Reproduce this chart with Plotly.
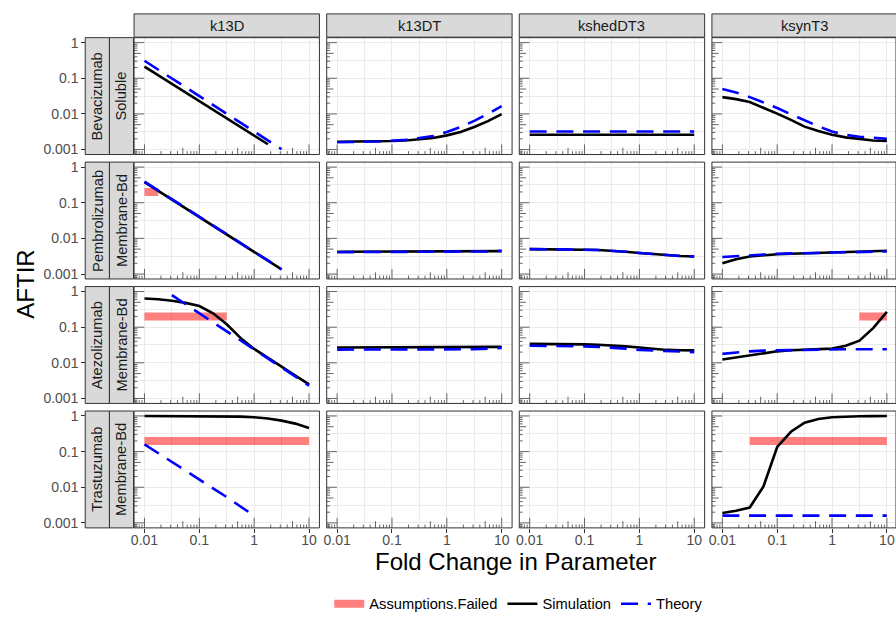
import math
import plotly.graph_objects as go

W, H = 896, 621
FONT = "Liberation Sans, Arial, Helvetica, sans-serif"

# ---------------- data ----------------
param_names = ["k13D", "k13DT", "kshedDT3", "ksynT3"]
drug_names = ["Bevacizumab", "Pembrolizumab", "Atezolizumab", "Trastuzumab"]
target_types = ["Soluble", "Membrane-Bd", "Membrane-Bd", "Membrane-Bd"]

fold = [0.01, 0.0178, 0.0316, 0.0562, 0.1, 0.178, 0.316, 0.562, 1, 1.78, 3.16, 5.62, 10]

x_tickvals = [0.01, 0.1, 1, 10]
x_ticktext = ["0.01", "0.1", "1", "10"]
y_tickvals = [0.001, 0.01, 0.1, 1]
y_ticktext = ["0.001", "0.01", "0.1", "1"]

# Bevacizumab / Soluble
sim_bev_k13D = [0.211, 0.121, 0.0693, 0.0397, 0.0228, 0.0131, 0.00748, 0.0043, 0.00246, 0.00141]
thr_bev_k13D = [0.31, 0.175, 0.0989, 0.0558, 0.0316, 0.0178, 0.0101, 0.0057, 0.00321, 0.00182, 0.00102]
sim_bev_k13DT = [0.00166, 0.00166, 0.00168, 0.0017, 0.00174, 0.0018, 0.0019, 0.0021, 0.0025, 0.0031, 0.0043, 0.0063, 0.0099]
thr_bev_k13DT = [0.0016, 0.0016, 0.00165, 0.00168, 0.00175, 0.00187, 0.0021, 0.0024, 0.0031, 0.0043, 0.0064, 0.0100, 0.0166]
sim_bev_kshedDT3 = [0.0026, 0.0026, 0.0026, 0.0026, 0.0026, 0.0026, 0.0026, 0.0026, 0.0026, 0.0026, 0.0026, 0.0026, 0.0026]
thr_bev_kshedDT3 = [0.0032, 0.0032, 0.0032, 0.0032, 0.0032, 0.0032, 0.0032, 0.0032, 0.0032, 0.0032, 0.0032, 0.0032, 0.0032]
sim_bev_ksynT3 = [0.0296, 0.026, 0.0215, 0.015, 0.0102, 0.0068, 0.0044, 0.0033, 0.0026, 0.0022, 0.0020, 0.0018, 0.00174]
thr_bev_ksynT3 = [0.050, 0.040, 0.0296, 0.021, 0.0147, 0.0098, 0.0066, 0.0045, 0.0032, 0.0026, 0.0023, 0.0021, 0.0020]

# Pembrolizumab / Membrane-Bd
sim_pem_k13D = [0.38, 0.216, 0.123, 0.070, 0.040, 0.0226, 0.0129, 0.0073, 0.0042, 0.0024, 0.00135]
thr_pem_k13D = [0.39, 0.22, 0.124, 0.070, 0.040, 0.0226, 0.0128, 0.0073, 0.0042, 0.0024, 0.00135]
sim_pem_k13DT = [0.0042, 0.0042, 0.0042, 0.0042, 0.0042, 0.0042, 0.0042, 0.0042, 0.0042, 0.0042, 0.0042, 0.0043, 0.0044]
thr_pem_k13DT = [0.0041, 0.0041, 0.0041, 0.0041, 0.0041, 0.0041, 0.0041, 0.0041, 0.0041, 0.0042, 0.0042, 0.0043, 0.0045]
sim_pem_kshedDT3 = [0.0050, 0.0050, 0.0050, 0.0049, 0.0048, 0.0047, 0.0045, 0.0042, 0.0039, 0.0036, 0.0034, 0.0032, 0.0031]
thr_pem_kshedDT3 = [0.0050, 0.0050, 0.0050, 0.0049, 0.0048, 0.0047, 0.0045, 0.0042, 0.0039, 0.0036, 0.0034, 0.0032, 0.0031]
sim_pem_ksynT3 = [0.0020, 0.0026, 0.0031, 0.0034, 0.0036, 0.0037, 0.0038, 0.0039, 0.0040, 0.0040, 0.0041, 0.0043, 0.0045]
thr_pem_ksynT3 = [0.0030, 0.0032, 0.0034, 0.0036, 0.0037, 0.0038, 0.0038, 0.0039, 0.0040, 0.0040, 0.0041, 0.0042, 0.0043]

# Atezolizumab / Membrane-Bd
sim_ate_k13D = [0.64, 0.61, 0.55, 0.48, 0.39, 0.245, 0.12, 0.05, 0.0245, 0.0135, 0.0078, 0.0044, 0.0025]
thr_ate_k13D = [0.79, 0.44, 0.25, 0.138, 0.077, 0.043, 0.024, 0.0135, 0.0075, 0.0042, 0.0023]
sim_ate_k13DT = [0.027, 0.027, 0.027, 0.027, 0.027, 0.027, 0.027, 0.027, 0.027, 0.027, 0.027, 0.0275, 0.028]
thr_ate_k13DT = [0.0235, 0.0235, 0.0235, 0.0235, 0.0235, 0.0235, 0.0235, 0.0235, 0.0235, 0.0235, 0.024, 0.025, 0.026]
sim_ate_kshedDT3 = [0.034, 0.034, 0.034, 0.033, 0.033, 0.032, 0.031, 0.029, 0.027, 0.025, 0.023, 0.0225, 0.0224]
thr_ate_kshedDT3 = [0.030, 0.030, 0.030, 0.029, 0.029, 0.028, 0.027, 0.025, 0.023, 0.022, 0.021, 0.020, 0.020]
sim_ate_ksynT3 = [0.0124, 0.0142, 0.016, 0.0185, 0.021, 0.0225, 0.0235, 0.0242, 0.025, 0.030, 0.042, 0.094, 0.27]
thr_ate_ksynT3 = [0.0178, 0.0195, 0.021, 0.022, 0.0225, 0.023, 0.0235, 0.0238, 0.024, 0.024, 0.024, 0.024, 0.024]

# Trastuzumab / Membrane-Bd
sim_tra_k13D = [1.0, 1.0, 1.0, 1.0, 0.99, 0.99, 0.98, 0.96, 0.92, 0.85, 0.74, 0.61, 0.46]
thr_tra_k13D_x = [0.01, 0.0316, 0.1, 0.316, 0.8]
thr_tra_k13D = [0.16, 0.052, 0.0165, 0.0053, 0.0020]
sim_tra_ksynT3 = [0.0019, 0.0022, 0.0027, 0.0105, 0.135, 0.36, 0.65, 0.82, 0.92, 0.96, 0.98, 0.99, 1.0]
thr_tra_ksynT3 = [0.0016, 0.0016, 0.0016, 0.0016, 0.0016, 0.0016, 0.0016, 0.0016, 0.0016, 0.0016, 0.0016, 0.0016, 0.0016]

# Assumptions.Failed ranges (row, column, fold range) drawn at AFTIR level
fail_row = [1, 2, 3, 2, 3]
fail_col = [0, 0, 0, 3, 3]
fail_lo = [0.01, 0.01, 0.01, 3.16, 0.0316]
fail_hi = [0.0178, 0.316, 10, 10, 10]
fail_level = 0.2

sim_series = [
    (0, 0, fold[:10], sim_bev_k13D), (0, 1, fold, sim_bev_k13DT),
    (0, 2, fold, sim_bev_kshedDT3), (0, 3, fold, sim_bev_ksynT3),
    (1, 0, fold[:11], sim_pem_k13D), (1, 1, fold, sim_pem_k13DT),
    (1, 2, fold, sim_pem_kshedDT3), (1, 3, fold, sim_pem_ksynT3),
    (2, 0, fold, sim_ate_k13D), (2, 1, fold, sim_ate_k13DT),
    (2, 2, fold, sim_ate_kshedDT3), (2, 3, fold, sim_ate_ksynT3),
    (3, 0, fold, sim_tra_k13D), (3, 3, fold, sim_tra_ksynT3),
]
thr_series = [
    (0, 0, fold[:11], thr_bev_k13D), (0, 1, fold, thr_bev_k13DT),
    (0, 2, fold, thr_bev_kshedDT3), (0, 3, fold, thr_bev_ksynT3),
    (1, 0, fold[:11], thr_pem_k13D), (1, 1, fold, thr_pem_k13DT),
    (1, 2, fold, thr_pem_kshedDT3), (1, 3, fold, thr_pem_ksynT3),
    (2, 0, fold[2:], thr_ate_k13D), (2, 1, fold, thr_ate_k13DT),
    (2, 2, fold, thr_ate_kshedDT3), (2, 3, fold, thr_ate_ksynT3),
    (3, 0, thr_tra_k13D_x, thr_tra_k13D), (3, 3, fold, thr_tra_ksynT3),
]

# ---------------- geometry ----------------
PW, PH = 186.0, 118.0
col_x0 = [131.5, 324.8, 518.0, 711.3]
row_y0 = [35.0, 160.67, 286.33, 412.0]
XR = [-2.19, 1.19]
YR = [-3.139, 0.139]
px_dec_x = PW / (XR[1] - XR[0])
px_dec_y = PH / (YR[1] - YR[0])
STRIP_TOP = (11.0, 34.5)
STRIP_LEFT = [(82.5, 106.8), (106.8, 131.0)]

GRID = "#EBEBEB"
DARK = "#333333"

fig = go.Figure()


def ax_id(i):
    return "" if i == 1 else str(i)


def panel_index(r, c):
    return r * 4 + c + 1


# log ticks (annotation_logticks style)
def tick_len(m):
    return 10.2 if m == 1 else (6.8 if m == 5 else 3.4)


for r in range(4):
    for c in range(4):
        i = panel_index(r, c)
        x0 = col_x0[c]
        x1 = min(x0 + PW, W)
        xhi = XR[0] + (x1 - x0) / px_dec_x
        xs, ys = [], []
        for k in range(-3, 2):
            for m in range(1, 10):
                v = m * 10 ** k
                lv = math.log10(v)
                if XR[0] <= lv <= xhi:
                    xs += [v, v, None]
                    ys += [10 ** YR[0], 10 ** (YR[0] + tick_len(m) / px_dec_y), None]
        for k in range(-4, 1):
            for m in range(1, 10):
                v = m * 10 ** k
                lv = math.log10(v)
                if YR[0] <= lv <= YR[1]:
                    ys += [v, v, None]
                    xs += [10 ** XR[0], 10 ** (XR[0] + tick_len(m) / px_dec_x), None]
        fig.add_trace(go.Scatter(x=xs, y=ys, mode="lines", line=dict(color="#555555", width=0.9),
                                 hoverinfo="skip", showlegend=False,
                                 xaxis="x" + ax_id(i), yaxis="y" + ax_id(i)))

# failed assumptions
for n, (r, c, lo, hi) in enumerate(zip(fail_row, fail_col, fail_lo, fail_hi)):
    i = panel_index(r, c)
    fig.add_trace(go.Scatter(x=[lo, hi], y=[fail_level, fail_level], mode="lines",
                             line=dict(color="rgba(255,0,0,0.5)", width=8),
                             name="Assumptions.Failed", legendgroup="fail", showlegend=(n == 0),
                             xaxis="x" + ax_id(i), yaxis="y" + ax_id(i)))

for n, (r, c, xv, yv) in enumerate(sim_series):
    i = panel_index(r, c)
    fig.add_trace(go.Scatter(x=xv, y=yv, mode="lines", line=dict(color="black", width=2.6),
                             name="Simulation", legendgroup="sim", showlegend=(n == 0),
                             xaxis="x" + ax_id(i), yaxis="y" + ax_id(i)))

for n, (r, c, xv, yv) in enumerate(thr_series):
    i = panel_index(r, c)
    fig.add_trace(go.Scatter(x=xv, y=yv, mode="lines",
                             line=dict(color="#0000FF", width=2.6, dash="17px,9.7px"),
                             name="Theory", legendgroup="thr", showlegend=(n == 0),
                             xaxis="x" + ax_id(i), yaxis="y" + ax_id(i)))

layout = dict(
    width=W, height=H, margin=dict(l=0, r=0, t=0, b=0),
    paper_bgcolor="white", plot_bgcolor="white",
    font=dict(family=FONT, size=14, color="#4D4D4D"),
    showlegend=True,
    legend=dict(orientation="h", x=517.5 / W, xanchor="center", y=1 - 607 / H, yanchor="middle",
                font=dict(size=14.7, color="black"), bgcolor="rgba(0,0,0,0)",
                traceorder="normal", itemwidth=30),
)

shapes = []
annotations = []
for r in range(4):
    for c in range(4):
        i = panel_index(r, c)
        x0 = col_x0[c]
        x1 = min(x0 + PW, W)
        xhi = XR[0] + (x1 - x0) / px_dec_x
        y0 = row_y0[r]
        y1 = y0 + PH
        bottom = (r == 3)
        layout["xaxis" + ax_id(i)] = dict(
            type="log", range=[XR[0], xhi], domain=[x0 / W, x1 / W], anchor="y" + ax_id(i),
            tickvals=x_tickvals, ticktext=x_ticktext, showticklabels=bottom,
            ticks="outside" if bottom else "", ticklen=4, tickcolor=DARK, tickwidth=1,
            ticklabelstandoff=-5,
            tickfont=dict(size=14, color="#4D4D4D"),
            showgrid=True, gridcolor=GRID, gridwidth=1.1, zeroline=False, showline=False,
            minor=dict(tickvals=[10 ** -1.5, 10 ** -0.5, 10 ** 0.5], showgrid=True,
                       gridcolor=GRID, gridwidth=0.6, ticks=""),
        )
        yax = dict(
            type="log", range=YR, domain=[1 - y1 / H, 1 - y0 / H],
            tickvals=y_tickvals, ticktext=y_ticktext,
            showgrid=True, gridcolor=GRID, gridwidth=1.1, zeroline=False, showline=False,
            tickfont=dict(size=14, color="#4D4D4D"),
            minor=dict(tickvals=[10 ** -2.5, 10 ** -1.5, 10 ** -0.5], showgrid=True,
                       gridcolor=GRID, gridwidth=0.6, ticks=""),
        )
        if c == 0:
            yax.update(anchor="free", position=STRIP_LEFT[0][0] / W, showticklabels=True,
                       ticks="outside", ticklen=4, tickcolor=DARK, tickwidth=1)
        else:
            yax.update(anchor="x" + ax_id(i), showticklabels=False, ticks="")
        layout["yaxis" + ax_id(i)] = yax
        # panel border
        shapes.append(dict(type="rect", xref="x" + ax_id(i) + " domain", yref="y" + ax_id(i) + " domain",
                           x0=0, x1=1, y0=0, y1=1, line=dict(color=DARK, width=1), layer="above"))

# top strips
for c in range(4):
    x0 = col_x0[c]
    x1 = min(x0 + PW, W + 2)
    shapes.append(dict(type="rect", xref="paper", yref="paper", x0=x0 / W, x1=x1 / W,
                       y0=1 - STRIP_TOP[1] / H, y1=1 - STRIP_TOP[0] / H,
                       fillcolor="#D9D9D9", line=dict(color=DARK, width=1), layer="below"))
    annotations.append(dict(xref="paper", yref="paper", x=(x0 + PW / 2) / W,
                            y=1 - (STRIP_TOP[0] + STRIP_TOP[1]) / 2 / H,
                            text=param_names[c], showarrow=False, xanchor="center", yanchor="middle",
                            font=dict(size=14.7, color="#1A1A1A")))

# left strips
for r in range(4):
    y0 = row_y0[r]
    y1 = y0 + PH
    for j, label in enumerate([drug_names[r], target_types[r]]):
        sx0, sx1 = STRIP_LEFT[j]
        shapes.append(dict(type="rect", xref="paper", yref="paper", x0=sx0 / W, x1=sx1 / W,
                           y0=1 - y1 / H, y1=1 - y0 / H,
                           fillcolor="#D9D9D9", line=dict(color=DARK, width=1), layer="below"))
        annotations.append(dict(xref="paper", yref="paper", x=(sx0 + sx1) / 2 / W,
                                y=1 - (y0 + y1) / 2 / H, text=label, textangle=-90,
                                showarrow=False, xanchor="center", yanchor="middle",
                                font=dict(size=14.7, color="#1A1A1A")))

# axis titles
annotations.append(dict(xref="paper", yref="paper", x=22.5 / W, y=1 - 284 / H, text="AFTIR",
                        textangle=-90, showarrow=False, xanchor="center", yanchor="middle",
                        font=dict(size=24, color="black")))
annotations.append(dict(xref="paper", yref="paper", x=514 / W, y=1 - 564 / H,
                        text="Fold Change in Parameter", showarrow=False,
                        xanchor="center", yanchor="middle", font=dict(size=24, color="black")))

layout["shapes"] = shapes
layout["annotations"] = annotations
fig.update_layout(**layout)
fig.write_html("out.html", config={"displayModeBar": False},
               post_script="document.body.style.margin='0';document.body.style.padding='0';")
